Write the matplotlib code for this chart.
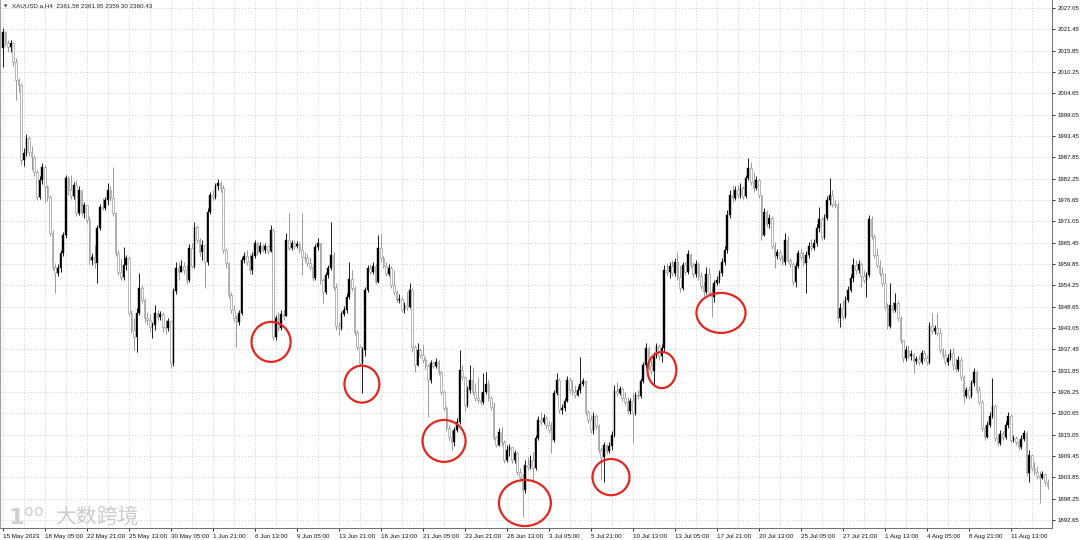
import numpy as np
import matplotlib
matplotlib.use("Agg")
import matplotlib.pyplot as plt
from matplotlib.patches import Ellipse

symbol = "XAUUSD.a,H4"
quote = "2361.58 2361.95 2359.30 2360.43"
watermark = "大数跨境"

# H4 bars, 15 May 2023 13:00 onwards; open of each bar = previous close
first_open = 2016.5
close = [
    2020.7, 2017.9, 2016.8, 2017.9, 2012.9, 2008.1, 2006.8, 1987.1, 1989.0, 1992.9,
    1989.2, 1987.9, 1984.0, 1977.4, 1981.9, 1985.3, 1980.0, 1977.4, 1968.0, 1959.1,
    1957.5, 1958.8, 1962.7, 1967.5, 1982.4, 1979.3, 1977.7, 1980.6, 1973.2, 1979.3,
    1973.2, 1975.3, 1971.4, 1960.9, 1961.7, 1960.1, 1969.3, 1974.8, 1974.5, 1976.6,
    1979.3, 1977.1, 1973.2, 1962.7, 1957.7, 1956.4, 1959.6, 1961.4, 1947.0, 1942.5,
    1940.7, 1947.0, 1953.5, 1950.4, 1945.7, 1945.1, 1943.3, 1943.8, 1947.0, 1945.9,
    1946.7, 1943.3, 1943.0, 1944.9, 1933.8, 1952.8, 1958.8, 1957.7, 1959.3, 1958.3,
    1955.6, 1964.0, 1959.3, 1969.6, 1966.1, 1963.0, 1964.8, 1960.4, 1973.5, 1977.9,
    1977.4, 1980.3, 1981.1, 1979.8, 1963.5, 1960.1, 1951.7, 1947.8, 1945.7, 1944.6,
    1947.0, 1960.9, 1961.9, 1960.4, 1958.3, 1961.9, 1965.4, 1963.0, 1964.6, 1963.5,
    1964.6, 1963.2, 1968.8, 1940.7, 1945.7, 1943.0, 1946.7, 1946.2, 1966.1, 1964.0,
    1965.4, 1964.6, 1965.1, 1963.5, 1961.7, 1961.4, 1960.1, 1959.1, 1956.2, 1964.3,
    1965.4, 1955.6, 1952.5, 1956.9, 1958.8, 1962.2, 1953.8, 1943.6, 1943.0, 1946.7,
    1947.8, 1951.2, 1955.9, 1953.5, 1942.0, 1938.1, 1933.8, 1937.3, 1953.0, 1958.8,
    1957.7, 1959.3, 1955.1, 1964.0, 1961.4, 1959.3, 1957.2, 1958.8, 1954.3, 1952.5,
    1950.4, 1950.6, 1947.8, 1949.1, 1948.6, 1953.0, 1938.1, 1933.3, 1937.3, 1936.0,
    1934.6, 1933.1, 1929.4, 1933.8, 1933.1, 1934.1, 1931.5, 1926.2, 1922.0, 1916.8,
    1914.4, 1913.1, 1916.3, 1918.4, 1932.0, 1930.2, 1922.8, 1926.8, 1929.4, 1926.2,
    1924.7, 1924.1, 1923.6, 1926.2, 1928.3, 1924.7, 1922.3, 1914.4, 1912.3, 1915.7,
    1913.1, 1908.4, 1911.0, 1911.8, 1908.4, 1910.2, 1905.2, 1903.9, 1900.5, 1907.1,
    1906.6, 1908.4, 1906.3, 1914.2, 1918.9, 1918.4, 1919.4, 1917.6, 1916.3, 1913.6,
    1925.9, 1929.4, 1921.5, 1922.0, 1923.9, 1929.4, 1926.8, 1926.2, 1925.4, 1926.8,
    1928.3, 1929.1, 1921.0, 1918.9, 1916.3, 1919.9, 1917.3, 1911.0, 1909.2, 1912.3,
    1910.7, 1912.1, 1914.9, 1926.5, 1925.9, 1927.0, 1924.7, 1923.6, 1921.2, 1923.9,
    1920.7, 1925.4, 1925.2, 1929.1, 1933.3, 1937.8, 1933.1, 1931.8, 1935.7, 1938.3,
    1935.7, 1937.8, 1958.3, 1957.7, 1959.3, 1957.5, 1960.4, 1956.4, 1953.5, 1959.6,
    1957.7, 1962.5, 1959.6, 1957.2, 1959.8, 1956.7, 1954.1, 1952.5, 1957.2, 1952.5,
    1951.2, 1954.8, 1955.6, 1957.5, 1960.4, 1963.5, 1972.7, 1977.9, 1977.1, 1979.3,
    1977.9, 1979.8, 1977.7, 1982.4, 1985.0, 1981.4, 1979.8, 1981.9, 1977.9, 1967.5,
    1973.5, 1970.3, 1971.9, 1964.6, 1961.9, 1963.0, 1961.4, 1960.4, 1966.1, 1960.9,
    1959.8, 1955.1, 1959.3, 1962.7, 1961.7, 1960.1, 1962.2, 1964.6, 1964.0, 1965.4,
    1969.3, 1971.6, 1966.9, 1971.9, 1976.6, 1977.9, 1975.6, 1975.3, 1945.7, 1948.3,
    1946.2, 1950.4, 1953.0, 1956.2, 1959.6, 1958.3, 1959.8, 1956.7, 1955.6, 1956.9,
    1971.6, 1967.2, 1962.2, 1959.6, 1957.5, 1954.8, 1948.6, 1943.6, 1949.1, 1947.8,
    1949.6, 1945.7, 1939.9, 1935.2, 1937.3, 1935.7, 1936.2, 1934.4, 1934.9, 1934.1,
    1936.5, 1935.2, 1934.1, 1943.6, 1942.2, 1943.0, 1941.7, 1937.3, 1936.0, 1934.1,
    1935.2, 1936.5, 1933.3, 1932.3, 1934.6, 1930.2, 1925.2, 1926.8, 1925.2, 1928.6,
    1931.5, 1926.8, 1923.6, 1916.8, 1914.4, 1917.6, 1919.9, 1922.6, 1914.2, 1912.8,
    1915.2, 1914.4, 1917.6, 1919.9, 1913.6, 1914.2, 1913.1, 1911.8, 1913.9, 1915.5,
    1905.0, 1909.7, 1906.3, 1905.2, 1904.2, 1903.7, 1904.7, 1902.6, 1901.6,
]
high = [
    2021.8, 2021.0, 2018.6, 2018.6, 2018.1, 2013.9, 2008.7, 2007.4, 1990.3, 1994.0,
    1993.4, 1990.8, 1988.5, 1984.5, 1982.9, 1986.4, 1985.8, 1980.6, 1977.9, 1968.8,
    1960.1, 1959.8, 1963.5, 1968.2, 1983.2, 1982.9, 1983.2, 1981.4, 1981.9, 1980.3,
    1979.3, 1976.1, 1975.3, 1972.4, 1962.7, 1964.8, 1970.1, 1975.6, 1977.1, 1977.4,
    1981.1, 1980.3, 1985.3, 1973.5, 1963.5, 1961.4, 1964.3, 1962.2, 1961.9, 1947.8,
    1945.7, 1948.3, 1957.5, 1954.3, 1950.9, 1947.2, 1946.7, 1944.6, 1949.1, 1947.8,
    1947.5, 1947.2, 1945.1, 1945.7, 1945.1, 1953.5, 1960.4, 1960.4, 1960.9, 1960.4,
    1959.6, 1965.1, 1965.4, 1970.9, 1970.1, 1966.6, 1966.1, 1964.8, 1974.5, 1978.7,
    1979.3, 1981.1, 1982.1, 1981.6, 1980.6, 1964.0, 1960.4, 1952.5, 1949.1, 1946.4,
    1947.8, 1961.7, 1963.0, 1963.5, 1962.5, 1963.0, 1966.1, 1965.6, 1965.6, 1965.1,
    1965.4, 1964.8, 1970.1, 1969.3, 1946.4, 1947.2, 1947.8, 1947.8, 1967.9, 1973.2,
    1966.1, 1966.1, 1965.9, 1965.6, 1973.2, 1963.0, 1962.5, 1961.7, 1959.6, 1965.1,
    1966.7, 1964.8, 1956.2, 1957.7, 1959.6, 1970.9, 1963.0, 1954.8, 1944.6, 1947.5,
    1948.8, 1952.2, 1960.4, 1958.3, 1954.1, 1942.5, 1938.6, 1938.1, 1953.8, 1959.6,
    1959.6, 1960.4, 1959.8, 1967.5, 1967.9, 1961.9, 1960.4, 1959.8, 1959.3, 1958.3,
    1953.0, 1952.0, 1951.4, 1949.9, 1952.5, 1954.8, 1953.5, 1938.6, 1939.1, 1937.8,
    1938.6, 1935.4, 1933.6, 1934.6, 1934.4, 1935.2, 1934.6, 1932.0, 1926.8, 1922.6,
    1917.6, 1916.3, 1917.1, 1919.4, 1937.3, 1933.3, 1930.4, 1927.8, 1933.3, 1932.8,
    1928.6, 1929.9, 1926.2, 1931.2, 1931.5, 1929.4, 1925.2, 1923.6, 1914.7, 1916.8,
    1917.1, 1913.6, 1912.3, 1912.6, 1911.5, 1911.0, 1910.5, 1906.3, 1904.7, 1908.4,
    1909.2, 1909.7, 1910.5, 1914.9, 1919.9, 1921.0, 1920.5, 1919.9, 1918.6, 1918.4,
    1926.8, 1931.2, 1929.9, 1923.1, 1924.7, 1930.4, 1930.2, 1929.4, 1928.1, 1927.8,
    1935.4, 1929.9, 1929.4, 1921.5, 1920.2, 1921.0, 1920.5, 1917.8, 1911.8, 1913.1,
    1912.6, 1913.1, 1916.0, 1928.1, 1928.9, 1927.8, 1927.5, 1926.2, 1924.9, 1924.7,
    1925.9, 1926.2, 1926.8, 1929.9, 1934.1, 1939.1, 1938.3, 1934.6, 1936.7, 1939.1,
    1938.8, 1938.8, 1959.6, 1960.1, 1960.4, 1960.9, 1961.4, 1963.0, 1959.3, 1960.4,
    1960.4, 1963.5, 1962.2, 1960.4, 1960.9, 1960.4, 1957.7, 1955.1, 1959.1, 1958.8,
    1954.1, 1955.6, 1956.7, 1958.3, 1961.4, 1964.6, 1974.0, 1979.3, 1980.6, 1980.3,
    1980.6, 1981.1, 1980.3, 1983.2, 1987.7, 1986.6, 1984.0, 1982.9, 1982.4, 1977.7,
    1974.5, 1974.0, 1973.0, 1972.4, 1965.6, 1963.8, 1963.5, 1962.2, 1967.9, 1967.2,
    1961.4, 1960.4, 1960.4, 1963.5, 1963.8, 1963.0, 1963.2, 1965.6, 1966.4, 1966.4,
    1970.3, 1974.8, 1972.2, 1973.0, 1977.7, 1982.4, 1979.3, 1976.6, 1976.1, 1949.6,
    1950.4, 1951.4, 1954.1, 1957.2, 1961.4, 1960.9, 1960.9, 1960.4, 1958.3, 1957.7,
    1972.7, 1972.4, 1967.7, 1964.0, 1960.9, 1959.1, 1957.5, 1949.6, 1954.8, 1949.9,
    1952.2, 1950.4, 1946.2, 1939.9, 1938.3, 1938.6, 1937.3, 1936.5, 1935.7, 1936.0,
    1937.3, 1937.3, 1936.0, 1944.6, 1947.0, 1943.8, 1947.0, 1943.0, 1937.8, 1937.3,
    1936.2, 1937.5, 1937.8, 1935.2, 1935.7, 1935.4, 1930.7, 1927.5, 1927.8, 1929.4,
    1932.5, 1932.0, 1927.8, 1924.1, 1917.3, 1918.6, 1921.0, 1929.9, 1923.1, 1914.9,
    1916.3, 1916.0, 1918.6, 1921.0, 1920.5, 1914.9, 1914.7, 1913.6, 1914.9, 1916.3,
    1916.0, 1911.0, 1909.7, 1907.9, 1906.8, 1905.5, 1905.5, 1904.9, 1903.4,
]
low = [
    2011.6, 2017.1, 2015.5, 2015.5, 2011.8, 2002.9, 2005.0, 1985.8, 1985.6, 1988.2,
    1988.2, 1984.5, 1982.9, 1976.6, 1976.9, 1980.8, 1975.8, 1976.4, 1967.2, 1958.3,
    1952.2, 1956.7, 1957.7, 1961.9, 1966.7, 1977.9, 1976.9, 1976.9, 1972.4, 1972.7,
    1972.4, 1971.9, 1970.6, 1959.8, 1959.6, 1958.8, 1954.8, 1968.8, 1974.0, 1974.0,
    1975.3, 1976.4, 1972.4, 1961.9, 1956.9, 1955.6, 1955.6, 1958.3, 1946.2, 1941.7,
    1937.3, 1936.7, 1946.4, 1949.6, 1944.6, 1943.8, 1942.0, 1940.4, 1942.5, 1945.1,
    1945.1, 1942.0, 1941.5, 1942.2, 1932.5, 1933.1, 1952.0, 1955.6, 1957.7, 1957.2,
    1954.6, 1955.1, 1958.8, 1958.8, 1965.4, 1961.9, 1960.9, 1953.5, 1959.6, 1973.0,
    1976.6, 1976.9, 1979.3, 1978.7, 1962.7, 1958.8, 1950.9, 1947.0, 1944.6, 1938.1,
    1943.8, 1946.4, 1960.1, 1959.6, 1957.2, 1957.2, 1961.4, 1962.2, 1962.5, 1963.0,
    1962.7, 1962.5, 1963.0, 1939.9, 1939.9, 1942.2, 1942.5, 1945.1, 1946.2, 1963.5,
    1963.5, 1963.8, 1964.0, 1962.7, 1956.9, 1960.4, 1959.3, 1958.3, 1955.4, 1955.6,
    1963.5, 1954.6, 1949.6, 1952.0, 1956.2, 1958.3, 1953.0, 1942.5, 1941.2, 1942.5,
    1946.2, 1947.0, 1950.6, 1952.8, 1941.2, 1937.3, 1933.1, 1925.9, 1935.7, 1952.5,
    1957.2, 1957.2, 1954.6, 1954.8, 1960.4, 1958.8, 1956.7, 1956.7, 1953.5, 1951.7,
    1949.9, 1949.6, 1947.2, 1947.0, 1947.8, 1948.3, 1936.7, 1931.5, 1933.1, 1935.2,
    1933.8, 1932.3, 1919.7, 1928.6, 1932.5, 1932.5, 1930.7, 1925.4, 1921.2, 1916.0,
    1913.6, 1911.0, 1912.1, 1915.7, 1917.8, 1929.4, 1921.2, 1922.3, 1925.9, 1925.4,
    1923.9, 1923.4, 1922.8, 1923.1, 1925.7, 1923.9, 1921.5, 1913.6, 1911.8, 1912.1,
    1912.1, 1907.6, 1907.9, 1909.4, 1907.6, 1907.6, 1904.4, 1903.1, 1893.4, 1899.7,
    1905.8, 1906.0, 1902.6, 1905.8, 1913.6, 1917.6, 1917.8, 1916.8, 1915.5, 1910.2,
    1913.1, 1925.4, 1920.7, 1920.5, 1921.2, 1923.6, 1925.9, 1925.4, 1924.7, 1925.2,
    1925.9, 1927.8, 1920.2, 1918.1, 1915.5, 1915.2, 1916.5, 1910.2, 1903.1, 1902.6,
    1909.9, 1910.2, 1911.0, 1914.4, 1925.2, 1925.4, 1923.9, 1922.8, 1920.5, 1920.5,
    1912.8, 1920.2, 1924.4, 1924.7, 1928.6, 1932.5, 1932.0, 1931.0, 1928.1, 1935.2,
    1934.6, 1934.1, 1936.7, 1956.9, 1956.2, 1956.7, 1956.7, 1955.6, 1952.5, 1953.0,
    1956.9, 1957.2, 1958.8, 1956.4, 1956.4, 1955.6, 1953.3, 1951.4, 1952.0, 1951.7,
    1945.9, 1949.9, 1954.3, 1954.8, 1956.7, 1959.6, 1962.7, 1971.9, 1976.1, 1976.6,
    1977.1, 1977.1, 1976.9, 1977.1, 1981.9, 1980.6, 1978.7, 1979.3, 1977.1, 1966.1,
    1967.2, 1969.5, 1969.3, 1963.8, 1958.8, 1961.1, 1960.6, 1959.6, 1959.6, 1960.4,
    1959.1, 1954.3, 1953.8, 1958.8, 1960.9, 1959.3, 1952.2, 1961.4, 1963.2, 1963.5,
    1964.6, 1968.2, 1966.1, 1966.4, 1971.4, 1975.3, 1974.8, 1974.5, 1944.6, 1943.3,
    1945.1, 1945.7, 1949.9, 1952.5, 1955.1, 1957.2, 1957.5, 1953.8, 1954.8, 1951.2,
    1956.4, 1966.4, 1961.4, 1958.8, 1956.7, 1954.1, 1947.8, 1942.8, 1943.0, 1947.0,
    1947.2, 1944.9, 1939.1, 1934.1, 1934.4, 1934.9, 1934.6, 1931.2, 1933.6, 1933.3,
    1933.6, 1934.4, 1933.3, 1933.6, 1941.5, 1941.5, 1940.9, 1936.5, 1935.2, 1933.3,
    1933.3, 1934.6, 1932.0, 1931.5, 1931.8, 1929.4, 1923.4, 1924.7, 1924.4, 1924.7,
    1927.8, 1925.9, 1922.8, 1916.0, 1913.6, 1914.2, 1917.1, 1919.4, 1913.4, 1912.1,
    1912.3, 1913.6, 1913.9, 1916.8, 1912.8, 1913.1, 1912.3, 1911.0, 1911.3, 1913.4,
    1904.2, 1902.6, 1905.5, 1904.4, 1903.4, 1897.1, 1903.4, 1901.8, 1900.8,
]
assert len(close) == len(high) == len(low), (len(close), len(high), len(low))

price_ticks = [1892.65, 1898.25, 1903.85, 1909.45, 1915.05, 1920.65, 1926.25,
               1931.85, 1937.45, 1943.05, 1948.65, 1954.25, 1959.85, 1965.45,
               1971.05, 1976.65, 1982.25, 1987.85, 1993.45, 1999.05, 2004.65,
               2010.25, 2015.85, 2021.45, 2027.05]
time_labels = ["15 May 2023", "18 May 05:00", "22 May 21:00", "25 May 13:00",
               "30 May 05:00", "1 Jun 21:00", "6 Jun 13:00", "9 Jun 05:00",
               "13 Jun 21:00", "16 Jun 13:00", "21 Jun 05:00", "23 Jun 21:00",
               "28 Jun 13:00", "3 Jul 05:00", "5 Jul 21:00", "10 Jul 13:00",
               "13 Jul 05:00", "17 Jul 21:00", "20 Jul 13:00", "25 Jul 05:00",
               "27 Jul 21:00", "1 Aug 13:00", "4 Aug 05:00", "8 Aug 21:00",
               "11 Aug 13:00"]
bars_per_label = 16

# red marks: (bar index, price, width in bars, height in price)
marks = [(102.2, 1939.4, 14.9, 10.5), (136.8, 1928.3, 13.3, 9.7),
         (168.1, 1913.4, 16.4, 11.0), (198.9, 1897.1, 19.8, 12.1),
         (231.7, 1903.9, 14.1, 9.5), (251.1, 1932.0, 11.0, 9.5),
         (273.6, 1947.0, 18.7, 10.5)]

c = np.array(close)
o = np.array([first_open] + close[:-1])
hi = np.maximum(np.array(high), np.maximum(o, c))
lo = np.minimum(np.array(low), np.minimum(o, c))
x = np.arange(len(c))
up = c > o

plt.rcParams['font.family'] = ['Liberation Sans', 'DejaVu Sans']
fig = plt.figure(figsize=(10.8, 5.4), dpi=100)
ax = fig.add_axes([0, 12 / 540, 1052 / 1080, 528 / 540])
ax.set_xlim(-1.07, 399.7)
ax.set_ylim(1890.54, 2029.14)

grid_kw = dict(color='#c8c8c8', lw=0.55, ls=(0, (1.5, 2.5)), zorder=0)
for p in price_ticks:
    ax.axhline(p, **grid_kw)
for b in range(0, len(c) + 8, 8):
    ax.axvline(b, **grid_kw)

bw = 0.62
ax.vlines(x[up], lo[up], hi[up], color='#1a1a1a', lw=0.7, zorder=2)
ax.vlines(x[~up], lo[~up], hi[~up], color='#9a9a9a', lw=0.7, zorder=2)
bot = np.minimum(o, c)
hgt = np.maximum(np.abs(c - o), 0.2)
ax.bar(x[up], hgt[up], bw, bot[up], color='#000000', edgecolor='#000000',
       lw=0.3, zorder=3)
ax.bar(x[~up], hgt[~up], bw, bot[~up], color='white', edgecolor='#9a9a9a',
       lw=0.5, zorder=3)

for bx, py, w, h in marks:
    ax.add_patch(Ellipse((bx, py), w, h, fill=False, edgecolor='#e3261f',
                         lw=1.6, zorder=5))

ax.yaxis.tick_right()
ax.set_yticks(price_ticks)
ax.set_yticklabels([f"{p:.2f}" for p in price_ticks])
ax.set_xticks([k * bars_per_label for k in range(len(time_labels))])
ax.set_xticklabels(time_labels)
for lab in ax.get_xticklabels():
    lab.set_horizontalalignment('left')
ax.tick_params(axis='y', length=2.5, width=0.6, labelsize=4.3, pad=1.5,
               colors='#111111')
ax.tick_params(axis='x', length=2.5, width=0.6, labelsize=4.5, pad=1.5,
               colors='#111111')
for side in ['top', 'left']:
    ax.spines[side].set_visible(False)
for side in ['right', 'bottom']:
    ax.spines[side].set_color('#6e6e6e')
    ax.spines[side].set_linewidth(0.7)
ax.axvline(-1.0, color='#a0a0a0', lw=0.8)

fig.text(4 / 1080, 1 - 6 / 540, "▼", fontsize=3.2, color='#333333',
         va='center', family='DejaVu Sans')
fig.text(12 / 1080, 1 - 6 / 540, f"{symbol}  {quote}", fontsize=4.5,
         color='#222222', va='center')

# watermark: logo and name
fig.text(8 / 1080, 1 - 517 / 540, r"1$^{\mathrm{oo}}$", fontsize=16,
         color='#cfcfcf', va='center', family='DejaVu Sans',
         fontweight='bold')
fig.text(55 / 1080, 1 - 518 / 540, watermark, fontsize=15, color='#cccccc',
         va='center', family=['Noto Sans CJK SC', 'DejaVu Sans'])

fig.savefig("out.png", dpi=100)
